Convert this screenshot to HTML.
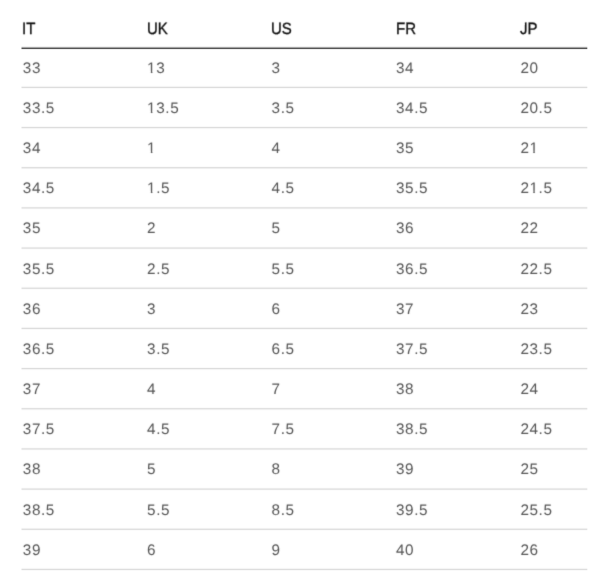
<!DOCTYPE html>
<html><head><meta charset="utf-8">
<style>
html,body{margin:0;padding:0;background:#fff;}
body{width:605px;height:582px;overflow:hidden;position:relative;font-family:"Liberation Sans",Arial,sans-serif;font-size:16px;line-height:1;}
.tx{position:absolute;left:0;top:0;width:605px;height:582px;}
.t{position:absolute;white-space:nowrap;text-rendering:geometricPrecision;}
.h{color:#111;font-size:16.3px;letter-spacing:0px;transform:scaleX(0.92);transform-origin:0 0;-webkit-text-stroke:0.35px currentColor;}
.d{color:#555;font-size:15.3px;letter-spacing:0.6px;transform:scaleX(1.0);transform-origin:0 0;}
.ln{position:absolute;}
.o{clip-path:polygon(0 0,100% 0,100% 0.70em,0.347em 0.70em,0.347em 100%,0.245em 100%,0.245em 0.70em,0 0.70em);}
.j{clip-path:polygon(0.328em 0,100% 0,100% 100%,0 100%,0 0.30em,0.328em 0.30em);}
</style></head><body>

<div class="ln" style="left:22px;width:565px;top:46px;height:4px;background:linear-gradient(#f1f1f1 0px,#f1f1f1 1px,#a3a3a3 1px,#a3a3a3 2px,#555555 2px,#555555 3px,#eeeeee 3px,#eeeeee 4px)"></div><div class="ln" style="left:21px;width:1px;top:46px;height:4px;background:linear-gradient(#f8f8f8 0px,#f8f8f8 1px,#d1d1d1 1px,#d1d1d1 2px,#aaaaaa 2px,#aaaaaa 3px,#f6f6f6 3px,#f6f6f6 4px)"></div><div class="ln" style="left:587px;width:1px;top:46px;height:4px;background:linear-gradient(#fbfbfb 0px,#fbfbfb 1px,#e3e3e3 1px,#e3e3e3 2px,#cccccc 2px,#cccccc 3px,#fafafa 3px,#fafafa 4px)"></div>
<div class="ln" style="left:22px;width:565px;top:85px;height:5px;background:linear-gradient(#fefefe 0px,#fefefe 1px,#f4f4f4 1px,#f4f4f4 2px,#dddddd 2px,#dddddd 3px,#fafafa 3px,#fafafa 4px,#ffffff 4px,#ffffff 5px)"></div><div class="ln" style="left:21px;width:1px;top:85px;height:5px;background:linear-gradient(#ffffff 0px,#ffffff 1px,#f9f9f9 1px,#f9f9f9 2px,#eeeeee 2px,#eeeeee 3px,#fdfdfd 3px,#fdfdfd 4px,#ffffff 4px,#ffffff 5px)"></div><div class="ln" style="left:587px;width:1px;top:85px;height:5px;background:linear-gradient(#ffffff 0px,#ffffff 1px,#fcfcfc 1px,#fcfcfc 2px,#f5f5f5 2px,#f5f5f5 3px,#fefefe 3px,#fefefe 4px,#ffffff 4px,#ffffff 5px)"></div>
<div class="ln" style="left:22px;width:565px;top:125px;height:5px;background:linear-gradient(#ffffff 0px,#ffffff 1px,#f9f9f9 1px,#f9f9f9 2px,#dddddd 2px,#dddddd 3px,#f5f5f5 3px,#f5f5f5 4px,#fefefe 4px,#fefefe 5px)"></div><div class="ln" style="left:21px;width:1px;top:125px;height:5px;background:linear-gradient(#ffffff 0px,#ffffff 1px,#fcfcfc 1px,#fcfcfc 2px,#eeeeee 2px,#eeeeee 3px,#fafafa 3px,#fafafa 4px,#ffffff 4px,#ffffff 5px)"></div><div class="ln" style="left:587px;width:1px;top:125px;height:5px;background:linear-gradient(#ffffff 0px,#ffffff 1px,#fdfdfd 1px,#fdfdfd 2px,#f5f5f5 2px,#f5f5f5 3px,#fcfcfc 3px,#fcfcfc 4px,#ffffff 4px,#ffffff 5px)"></div>
<div class="ln" style="left:22px;width:565px;top:166px;height:4px;background:linear-gradient(#fbfbfb 0px,#fbfbfb 1px,#e0e0e0 1px,#e0e0e0 2px,#efefef 2px,#efefef 3px,#fefefe 3px,#fefefe 4px)"></div><div class="ln" style="left:21px;width:1px;top:166px;height:4px;background:linear-gradient(#fdfdfd 0px,#fdfdfd 1px,#f0f0f0 1px,#f0f0f0 2px,#f7f7f7 2px,#f7f7f7 3px,#fefefe 3px,#fefefe 4px)"></div><div class="ln" style="left:587px;width:1px;top:166px;height:4px;background:linear-gradient(#fefefe 0px,#fefefe 1px,#f6f6f6 1px,#f6f6f6 2px,#fafafa 2px,#fafafa 3px,#ffffff 3px,#ffffff 4px)"></div>
<div class="ln" style="left:22px;width:565px;top:206px;height:4px;background:linear-gradient(#fcfcfc 0px,#fcfcfc 1px,#e5e5e5 1px,#e5e5e5 2px,#ebebeb 2px,#ebebeb 3px,#fdfdfd 3px,#fdfdfd 4px)"></div><div class="ln" style="left:21px;width:1px;top:206px;height:4px;background:linear-gradient(#fefefe 0px,#fefefe 1px,#f2f2f2 1px,#f2f2f2 2px,#f5f5f5 2px,#f5f5f5 3px,#fefefe 3px,#fefefe 4px)"></div><div class="ln" style="left:587px;width:1px;top:206px;height:4px;background:linear-gradient(#fefefe 0px,#fefefe 1px,#f7f7f7 1px,#f7f7f7 2px,#f9f9f9 2px,#f9f9f9 3px,#fefefe 3px,#fefefe 4px)"></div>
<div class="ln" style="left:22px;width:565px;top:246px;height:4px;background:linear-gradient(#fdfdfd 0px,#fdfdfd 1px,#eaeaea 1px,#eaeaea 2px,#e6e6e6 2px,#e6e6e6 3px,#fcfcfc 3px,#fcfcfc 4px)"></div><div class="ln" style="left:21px;width:1px;top:246px;height:4px;background:linear-gradient(#fefefe 0px,#fefefe 1px,#f5f5f5 1px,#f5f5f5 2px,#f2f2f2 2px,#f2f2f2 3px,#fefefe 3px,#fefefe 4px)"></div><div class="ln" style="left:587px;width:1px;top:246px;height:4px;background:linear-gradient(#fefefe 0px,#fefefe 1px,#f9f9f9 1px,#f9f9f9 2px,#f7f7f7 2px,#f7f7f7 3px,#fefefe 3px,#fefefe 4px)"></div>
<div class="ln" style="left:22px;width:565px;top:286px;height:4px;background:linear-gradient(#fdfdfd 0px,#fdfdfd 1px,#efefef 1px,#efefef 2px,#e1e1e1 2px,#e1e1e1 3px,#fbfbfb 3px,#fbfbfb 4px)"></div><div class="ln" style="left:21px;width:1px;top:286px;height:4px;background:linear-gradient(#fefefe 0px,#fefefe 1px,#f7f7f7 1px,#f7f7f7 2px,#f0f0f0 2px,#f0f0f0 3px,#fdfdfd 3px,#fdfdfd 4px)"></div><div class="ln" style="left:587px;width:1px;top:286px;height:4px;background:linear-gradient(#ffffff 0px,#ffffff 1px,#fafafa 1px,#fafafa 2px,#f6f6f6 2px,#f6f6f6 3px,#fefefe 3px,#fefefe 4px)"></div>
<div class="ln" style="left:22px;width:565px;top:326px;height:5px;background:linear-gradient(#fefefe 0px,#fefefe 1px,#f4f4f4 1px,#f4f4f4 2px,#dddddd 2px,#dddddd 3px,#f9f9f9 3px,#f9f9f9 4px,#ffffff 4px,#ffffff 5px)"></div><div class="ln" style="left:21px;width:1px;top:326px;height:5px;background:linear-gradient(#ffffff 0px,#ffffff 1px,#fafafa 1px,#fafafa 2px,#eeeeee 2px,#eeeeee 3px,#fcfcfc 3px,#fcfcfc 4px,#ffffff 4px,#ffffff 5px)"></div><div class="ln" style="left:587px;width:1px;top:326px;height:5px;background:linear-gradient(#ffffff 0px,#ffffff 1px,#fcfcfc 1px,#fcfcfc 2px,#f5f5f5 2px,#f5f5f5 3px,#fdfdfd 3px,#fdfdfd 4px,#ffffff 4px,#ffffff 5px)"></div>
<div class="ln" style="left:22px;width:565px;top:366px;height:5px;background:linear-gradient(#ffffff 0px,#ffffff 1px,#fafafa 1px,#fafafa 2px,#dddddd 2px,#dddddd 3px,#f4f4f4 3px,#f4f4f4 4px,#fefefe 4px,#fefefe 5px)"></div><div class="ln" style="left:21px;width:1px;top:366px;height:5px;background:linear-gradient(#ffffff 0px,#ffffff 1px,#fcfcfc 1px,#fcfcfc 2px,#eeeeee 2px,#eeeeee 3px,#f9f9f9 3px,#f9f9f9 4px,#ffffff 4px,#ffffff 5px)"></div><div class="ln" style="left:587px;width:1px;top:366px;height:5px;background:linear-gradient(#ffffff 0px,#ffffff 1px,#fdfdfd 1px,#fdfdfd 2px,#f5f5f5 2px,#f5f5f5 3px,#fcfcfc 3px,#fcfcfc 4px,#ffffff 4px,#ffffff 5px)"></div>
<div class="ln" style="left:22px;width:565px;top:407px;height:4px;background:linear-gradient(#fbfbfb 0px,#fbfbfb 1px,#e1e1e1 1px,#e1e1e1 2px,#efefef 2px,#efefef 3px,#fdfdfd 3px,#fdfdfd 4px)"></div><div class="ln" style="left:21px;width:1px;top:407px;height:4px;background:linear-gradient(#fdfdfd 0px,#fdfdfd 1px,#f0f0f0 1px,#f0f0f0 2px,#f7f7f7 2px,#f7f7f7 3px,#fefefe 3px,#fefefe 4px)"></div><div class="ln" style="left:587px;width:1px;top:407px;height:4px;background:linear-gradient(#fefefe 0px,#fefefe 1px,#f6f6f6 1px,#f6f6f6 2px,#fafafa 2px,#fafafa 3px,#ffffff 3px,#ffffff 4px)"></div>
<div class="ln" style="left:22px;width:565px;top:447px;height:4px;background:linear-gradient(#fcfcfc 0px,#fcfcfc 1px,#e6e6e6 1px,#e6e6e6 2px,#eaeaea 2px,#eaeaea 3px,#fdfdfd 3px,#fdfdfd 4px)"></div><div class="ln" style="left:21px;width:1px;top:447px;height:4px;background:linear-gradient(#fefefe 0px,#fefefe 1px,#f2f2f2 1px,#f2f2f2 2px,#f4f4f4 2px,#f4f4f4 3px,#fefefe 3px,#fefefe 4px)"></div><div class="ln" style="left:587px;width:1px;top:447px;height:4px;background:linear-gradient(#fefefe 0px,#fefefe 1px,#f7f7f7 1px,#f7f7f7 2px,#f9f9f9 2px,#f9f9f9 3px,#fefefe 3px,#fefefe 4px)"></div>
<div class="ln" style="left:22px;width:565px;top:487px;height:4px;background:linear-gradient(#fdfdfd 0px,#fdfdfd 1px,#ebebeb 1px,#ebebeb 2px,#e5e5e5 2px,#e5e5e5 3px,#fcfcfc 3px,#fcfcfc 4px)"></div><div class="ln" style="left:21px;width:1px;top:487px;height:4px;background:linear-gradient(#fefefe 0px,#fefefe 1px,#f5f5f5 1px,#f5f5f5 2px,#f2f2f2 2px,#f2f2f2 3px,#fefefe 3px,#fefefe 4px)"></div><div class="ln" style="left:587px;width:1px;top:487px;height:4px;background:linear-gradient(#fefefe 0px,#fefefe 1px,#f9f9f9 1px,#f9f9f9 2px,#f7f7f7 2px,#f7f7f7 3px,#fefefe 3px,#fefefe 4px)"></div>
<div class="ln" style="left:22px;width:565px;top:527px;height:4px;background:linear-gradient(#fefefe 0px,#fefefe 1px,#f0f0f0 1px,#f0f0f0 2px,#e0e0e0 2px,#e0e0e0 3px,#fbfbfb 3px,#fbfbfb 4px)"></div><div class="ln" style="left:21px;width:1px;top:527px;height:4px;background:linear-gradient(#fefefe 0px,#fefefe 1px,#f7f7f7 1px,#f7f7f7 2px,#f0f0f0 2px,#f0f0f0 3px,#fdfdfd 3px,#fdfdfd 4px)"></div><div class="ln" style="left:587px;width:1px;top:527px;height:4px;background:linear-gradient(#ffffff 0px,#ffffff 1px,#fafafa 1px,#fafafa 2px,#f6f6f6 2px,#f6f6f6 3px,#fefefe 3px,#fefefe 4px)"></div>
<div class="ln" style="left:22px;width:565px;top:567px;height:5px;background:linear-gradient(#fefefe 0px,#fefefe 1px,#f5f5f5 1px,#f5f5f5 2px,#dddddd 2px,#dddddd 3px,#f9f9f9 3px,#f9f9f9 4px,#ffffff 4px,#ffffff 5px)"></div><div class="ln" style="left:21px;width:1px;top:567px;height:5px;background:linear-gradient(#ffffff 0px,#ffffff 1px,#fafafa 1px,#fafafa 2px,#eeeeee 2px,#eeeeee 3px,#fcfcfc 3px,#fcfcfc 4px,#ffffff 4px,#ffffff 5px)"></div><div class="ln" style="left:587px;width:1px;top:567px;height:5px;background:linear-gradient(#ffffff 0px,#ffffff 1px,#fcfcfc 1px,#fcfcfc 2px,#f5f5f5 2px,#f5f5f5 3px,#fdfdfd 3px,#fdfdfd 4px,#ffffff 4px,#ffffff 5px)"></div>
<svg width="0" height="0" style="position:absolute"><filter id="f" x="0" y="0" width="605" height="582" filterUnits="userSpaceOnUse"><feConvolveMatrix order="3" kernelMatrix="0.0144 0.0912 0.0144 0.0912 0.5776 0.0912 0.0144 0.0912 0.0144" divisor="1" edgeMode="none"/></filter></svg>
<div class="tx" style="filter:url(#f)">
<div class="t h" style="left:22.40px;top:21px">IT</div>
<div class="t h" style="left:146.70px;top:21px">UK</div>
<div class="t h" style="left:271.20px;top:21px">US</div>
<div class="t h" style="left:395.60px;top:21px">FR</div>
<div class="t h" style="left:520.00px;top:21px"><span class="j">J</span>P</div>
<div class="t d" style="left:22.80px;top:61px">33</div>
<div class="t d" style="left:147.10px;top:61px"><span class="o">1</span>3</div>
<div class="t d" style="left:271.60px;top:61px">3</div>
<div class="t d" style="left:396.00px;top:61px">34</div>
<div class="t d" style="left:520.40px;top:61px">20</div>
<div class="t d" style="left:22.80px;top:101px">33.5</div>
<div class="t d" style="left:147.10px;top:101px"><span class="o">1</span>3.5</div>
<div class="t d" style="left:271.60px;top:101px">3.5</div>
<div class="t d" style="left:396.00px;top:101px">34.5</div>
<div class="t d" style="left:520.40px;top:101px">20.5</div>
<div class="t d" style="left:22.80px;top:141px">34</div>
<div class="t d" style="left:147.10px;top:141px"><span class="o">1</span></div>
<div class="t d" style="left:271.60px;top:141px">4</div>
<div class="t d" style="left:396.00px;top:141px">35</div>
<div class="t d" style="left:520.40px;top:141px">2<span class="o">1</span></div>
<div class="t d" style="left:22.80px;top:181px">34.5</div>
<div class="t d" style="left:147.10px;top:181px"><span class="o">1</span>.5</div>
<div class="t d" style="left:271.60px;top:181px">4.5</div>
<div class="t d" style="left:396.00px;top:181px">35.5</div>
<div class="t d" style="left:520.40px;top:181px">2<span class="o">1</span>.5</div>
<div class="t d" style="left:22.80px;top:221px">35</div>
<div class="t d" style="left:147.10px;top:221px">2</div>
<div class="t d" style="left:271.60px;top:221px">5</div>
<div class="t d" style="left:396.00px;top:221px">36</div>
<div class="t d" style="left:520.40px;top:221px">22</div>
<div class="t d" style="left:22.80px;top:262px">35.5</div>
<div class="t d" style="left:147.10px;top:262px">2.5</div>
<div class="t d" style="left:271.60px;top:262px">5.5</div>
<div class="t d" style="left:396.00px;top:262px">36.5</div>
<div class="t d" style="left:520.40px;top:262px">22.5</div>
<div class="t d" style="left:22.80px;top:302px">36</div>
<div class="t d" style="left:147.10px;top:302px">3</div>
<div class="t d" style="left:271.60px;top:302px">6</div>
<div class="t d" style="left:396.00px;top:302px">37</div>
<div class="t d" style="left:520.40px;top:302px">23</div>
<div class="t d" style="left:22.80px;top:342px">36.5</div>
<div class="t d" style="left:147.10px;top:342px">3.5</div>
<div class="t d" style="left:271.60px;top:342px">6.5</div>
<div class="t d" style="left:396.00px;top:342px">37.5</div>
<div class="t d" style="left:520.40px;top:342px">23.5</div>
<div class="t d" style="left:22.80px;top:382px">37</div>
<div class="t d" style="left:147.10px;top:382px">4</div>
<div class="t d" style="left:271.60px;top:382px">7</div>
<div class="t d" style="left:396.00px;top:382px">38</div>
<div class="t d" style="left:520.40px;top:382px">24</div>
<div class="t d" style="left:22.80px;top:422px">37.5</div>
<div class="t d" style="left:147.10px;top:422px">4.5</div>
<div class="t d" style="left:271.60px;top:422px">7.5</div>
<div class="t d" style="left:396.00px;top:422px">38.5</div>
<div class="t d" style="left:520.40px;top:422px">24.5</div>
<div class="t d" style="left:22.80px;top:462px">38</div>
<div class="t d" style="left:147.10px;top:462px">5</div>
<div class="t d" style="left:271.60px;top:462px">8</div>
<div class="t d" style="left:396.00px;top:462px">39</div>
<div class="t d" style="left:520.40px;top:462px">25</div>
<div class="t d" style="left:22.80px;top:503px">38.5</div>
<div class="t d" style="left:147.10px;top:503px">5.5</div>
<div class="t d" style="left:271.60px;top:503px">8.5</div>
<div class="t d" style="left:396.00px;top:503px">39.5</div>
<div class="t d" style="left:520.40px;top:503px">25.5</div>
<div class="t d" style="left:22.80px;top:543px">39</div>
<div class="t d" style="left:147.10px;top:543px">6</div>
<div class="t d" style="left:271.60px;top:543px">9</div>
<div class="t d" style="left:396.00px;top:543px">40</div>
<div class="t d" style="left:520.40px;top:543px">26</div>
</div>
</body></html>
